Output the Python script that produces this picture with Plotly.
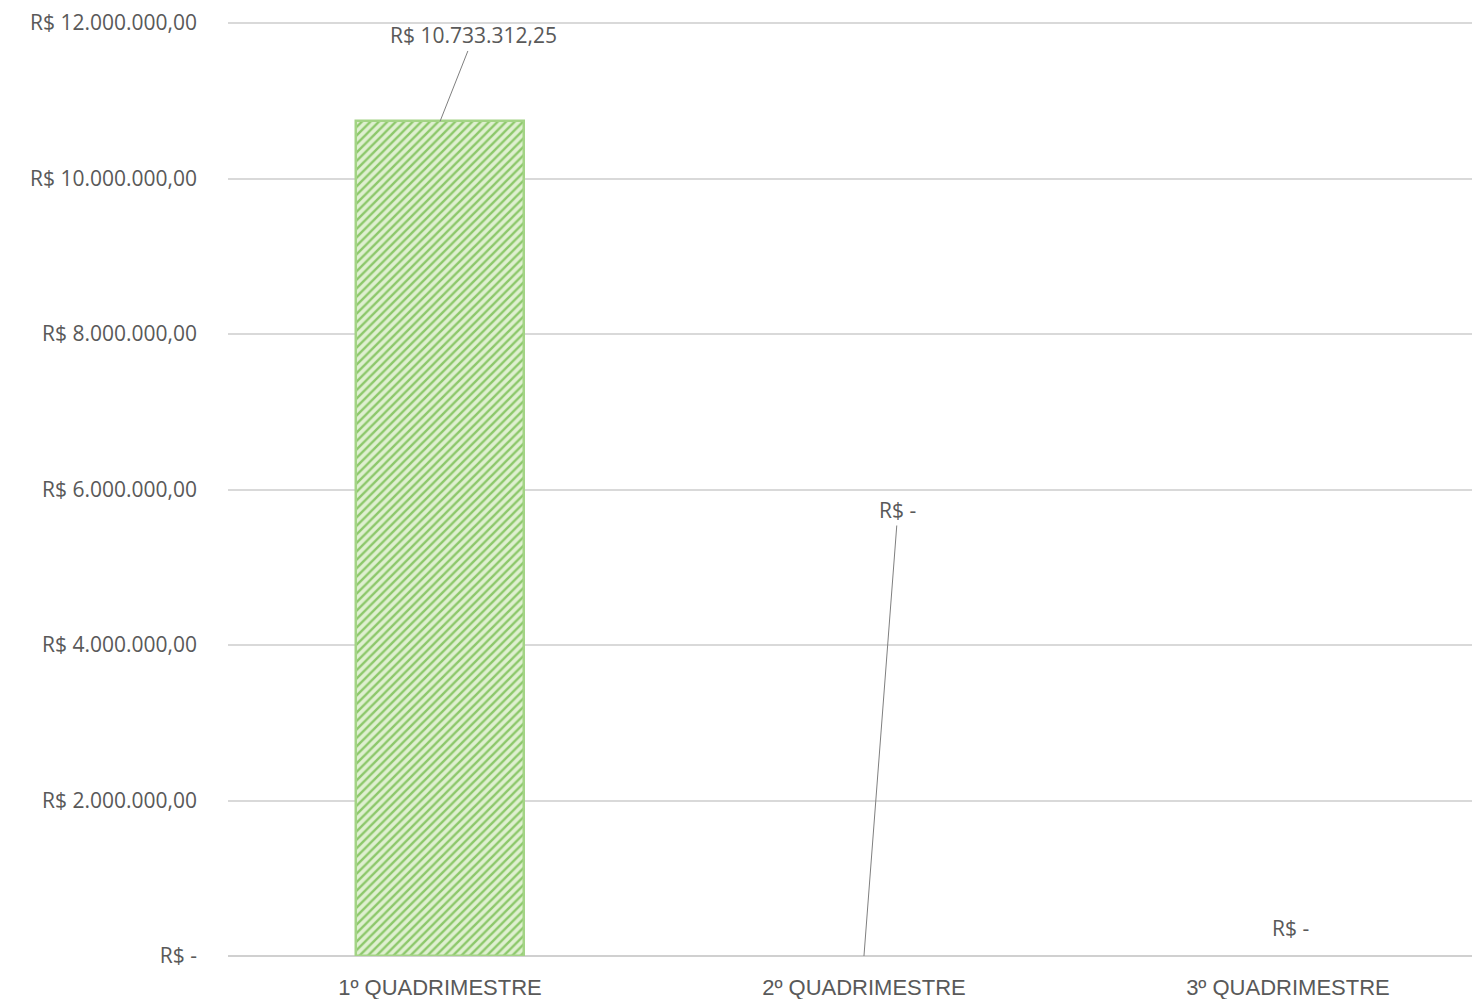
import plotly.graph_objects as go

categories = ["1º QUADRIMESTRE", "2º QUADRIMESTRE", "3º QUADRIMESTRE"]
values = [10733312.25, 0, 0]
value_labels = ["R$ 10.733.312,25", "R$ -", "R$ -"]
tick_vals = [0, 2000000, 4000000, 6000000, 8000000, 10000000, 12000000]
tick_text = ["R$ -", "R$ 2.000.000,00", "R$ 4.000.000,00", "R$ 6.000.000,00",
             "R$ 8.000.000,00", "R$ 10.000.000,00", "R$ 12.000.000,00"]

FONT = "Open Sans"
TXT = "#595959"

fig = go.Figure()
fig.add_trace(go.Bar(
    x=categories, y=values, width=0.396,
    marker=dict(
        color="#dcefcd",
        line=dict(color="#a3d485", width=[2.5, 0, 0]),
        pattern=dict(shape="/", bgcolor="#dff0d0", fgcolor="#8cc86a",
                     size=6, solidity=0.4, fillmode="replace"),
    ),
    hoverinfo="skip",
))

# data labels with leader lines
fig.add_annotation(x=categories[0], y=values[0], text=value_labels[0],
                   showarrow=True, arrowhead=0, arrowwidth=1, arrowcolor="#7f7f7f",
                   ax=34, ay=-86, standoff=0, startstandoff=0,
                   font=dict(family=FONT, size=21, color=TXT))
fig.add_annotation(x=categories[1], y=values[1], text=value_labels[1],
                   showarrow=True, arrowhead=0, arrowwidth=1, arrowcolor="#7f7f7f",
                   ax=34, ay=-446, standoff=0, startstandoff=0,
                   font=dict(family=FONT, size=21, color=TXT))
fig.add_annotation(x=categories[2], y=values[2], text=value_labels[2],
                   showarrow=False, xshift=3, yshift=28,
                   font=dict(family=FONT, size=21, color=TXT))

fig.update_layout(
    width=1472, height=991,
    margin=dict(l=220, r=0, t=10, b=43),
    paper_bgcolor="white", plot_bgcolor="white",
    showlegend=False,
    font=dict(family=FONT, color=TXT),
    bargap=0,
    xaxis=dict(
        range=[-0.5, 2.453], showgrid=False, zeroline=False, showline=False,
        ticks="", tickfont=dict(family="Liberation Sans", size=22, color=TXT),
        ticklabelstandoff=16, fixedrange=True,
    ),
    yaxis=dict(
        range=[0, 12064300], tickvals=tick_vals, ticktext=tick_text,
        showgrid=True, gridcolor="#d9d9d9", gridwidth=1.5,
        zeroline=True, zerolinecolor="#d0d0d0", zerolinewidth=2,
        showline=False, ticks="",
        tickfont=dict(family=FONT, size=21, color=TXT),
        ticklabelstandoff=30, fixedrange=True,
    ),
)

fig.write_html("out.html")
